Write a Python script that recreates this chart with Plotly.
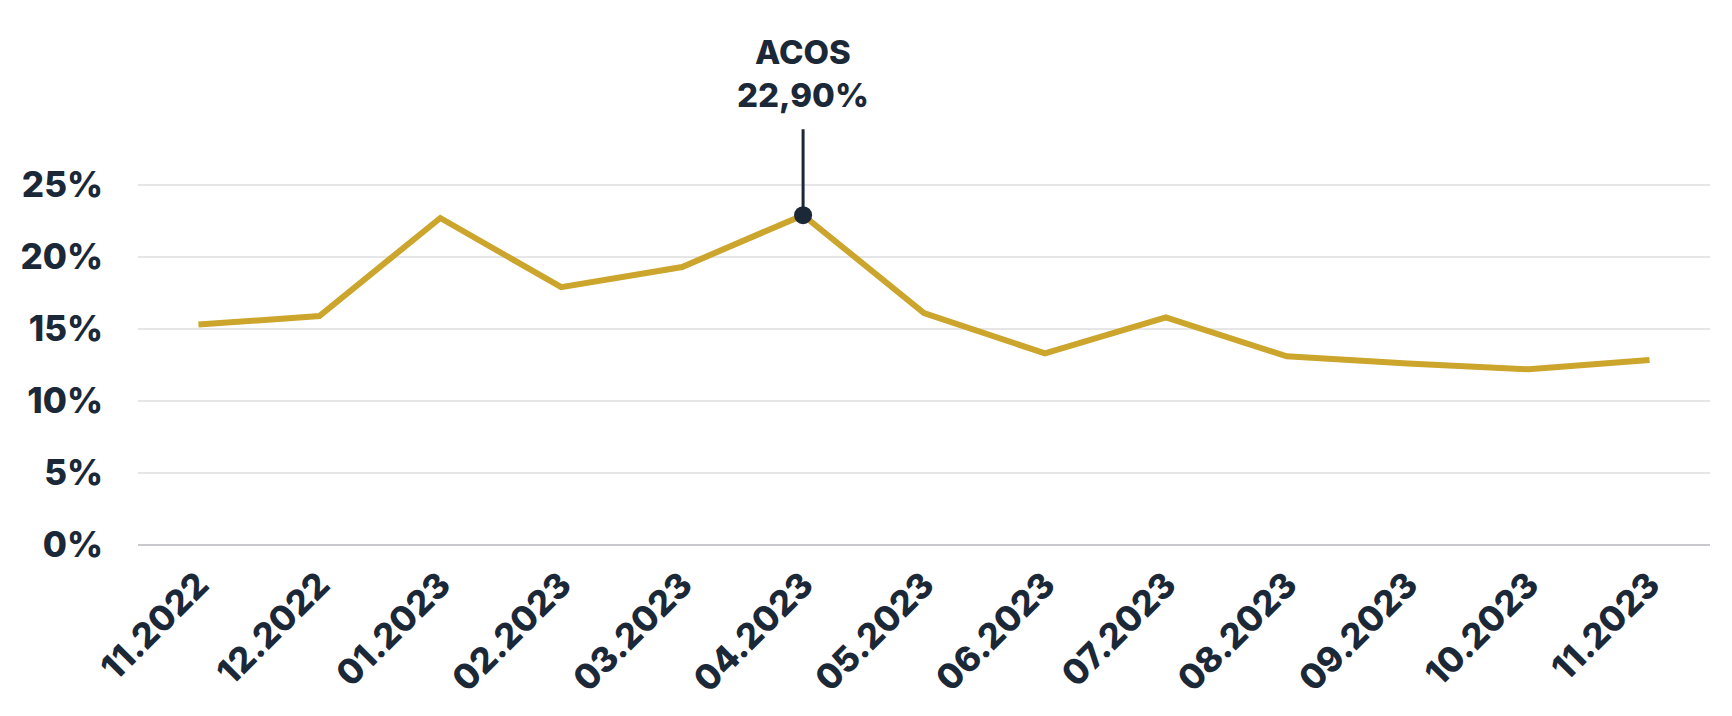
import plotly.graph_objects as go

months = ["11.2022", "12.2022", "01.2023", "02.2023", "03.2023", "04.2023", "05.2023",
          "06.2023", "07.2023", "08.2023", "09.2023", "10.2023", "11.2023"]
acos = [15.3, 15.9, 22.7, 17.9, 19.3, 22.9, 16.1, 13.3, 15.8, 13.1, 12.6, 12.2, 12.85]
y_ticks = [0, 5, 10, 15, 20, 25]
y_labels = ["0%", "5%", "10%", "15%", "20%", "25%"]

# highlighted month
hl = 5

navy = "#1b2838"
gold = "#cba52c"
tfont = dict(size=35, color=navy, family="Inter", weight=800)

fig = go.Figure()
fig.add_trace(go.Scatter(x=months, y=acos, mode="lines",
                         line=dict(color=gold, width=6), hoverinfo="skip"))
fig.add_trace(go.Scatter(x=[months[hl]], y=[acos[hl]], mode="markers",
                         marker=dict(color=navy, size=18), hoverinfo="skip"))

# category axis: annotation x given as index (labels like "04.2023" look numeric)
fig.add_annotation(x=hl, y=acos[hl],
                   text="ACOS<br>" + f"{acos[hl]:.2f}".replace(".", ",") + "%",
                   showarrow=True, arrowhead=0, arrowwidth=3, arrowcolor=navy,
                   ax=0, ay=-142, borderpad=14,
                   font=dict(size=33, color=navy, family="Inter", weight=800))

fig.update_layout(
    width=1732, height=716,
    margin=dict(l=126, r=30, t=174, b=179),
    plot_bgcolor="white", paper_bgcolor="white",
    showlegend=False,
    font=dict(family="Inter", color=navy, size=33, weight=800),
    xaxis=dict(type="category", tickangle=-45, showgrid=False, ticks="",
               range=[-0.5, len(months) - 0.5], ticklabelstandoff=11,
               tickfont=tfont),
    yaxis=dict(range=[0, 25.2], tickvals=y_ticks, ticktext=y_labels,
               gridcolor="#e6e6e6", gridwidth=1.5, zeroline=True,
               zerolinecolor="#c8c8cc", zerolinewidth=2, ticklabelstandoff=34,
               tickfont=tfont),
)

fig.write_html("out.html")
